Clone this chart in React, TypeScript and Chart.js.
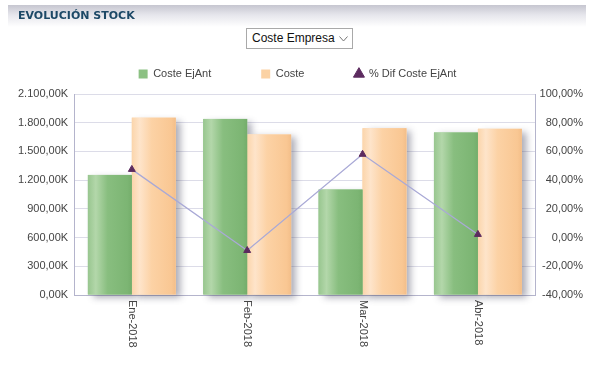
import React, { useEffect, useRef } from 'react';
import { Chart, registerables } from 'chart.js';

Chart.register(...registerables);

// ---- data ----
const categories = ['Ene-2018', 'Feb-2018', 'Mar-2018', 'Abr-2018'];
const costeEjAnt = [1255, 1840, 1102, 1698]; // K
const coste = [1853, 1677, 1743, 1736]; // K
const difPct = [47.5, -9, 58, 2.2]; // %
const seriesNames = ['Coste EjAnt', 'Coste', '% Dif Coste EjAnt'];
const leftMin = 0;
const leftMax = 2100;
const leftStep = 150;
const leftLabelStep = 300;
const rightMin = -40;
const rightMax = 100;
const rightStep = 20;

const FONT = '"Liberation Sans", Arial, Helvetica, sans-serif';

function fmtK(v: number) {
  const [i, d] = Math.abs(v).toFixed(2).split('.');
  const g = i.replace(/\B(?=(\d{3})+(?!\d))/g, '.');
  return (v < 0 ? '-' : '') + g + ',' + d + 'K';
}
function fmtPct(v: number) {
  return v.toFixed(2).replace('.', ',') + '%';
}

const gradStops: Record<string, Array<[number, string]>> = {
  [seriesNames[0]]: [
    [0, '#98c68f'],
    [0.18, '#b3d7aa'],
    [0.45, '#88be7f'],
    [0.9, '#7cb573'],
    [1, '#74ad6b'],
  ],
  [seriesNames[1]]: [
    [0, '#fbd5ab'],
    [0.18, '#fee4ca'],
    [0.45, '#fcd2a5'],
    [0.9, '#f9c793'],
    [1, '#f3be89'],
  ],
};

const barFx = {
  id: 'barFx',
  beforeDatasetsDraw(chart: any) {
    const ctx = chart.ctx;
    chart.data.datasets.forEach((_ds: any, di: number) => {
      const meta = chart.getDatasetMeta(di);
      if (meta.type !== 'bar') return;
      meta.data.forEach((el: any) => {
        const { x, y, base, width } = el.getProps(['x', 'y', 'base', 'width'], true);
        ctx.save();
        ctx.shadowColor = 'rgba(70,70,95,0.45)';
        ctx.shadowBlur = 7;
        ctx.shadowOffsetX = 5;
        ctx.shadowOffsetY = 3;
        ctx.fillStyle = '#ffffff';
        ctx.fillRect(x - width / 2, y, width, base - y);
        ctx.restore();
      });
    });
  },
  afterDatasetDraw(chart: any, args: any) {
    const meta = args.meta;
    if (meta.type !== 'bar') return;
    const label = chart.data.datasets[args.index].label;
    const stops = gradStops[label];
    if (!stops) return;
    const ctx = chart.ctx;
    meta.data.forEach((el: any) => {
      const { x, y, base, width } = el.getProps(['x', 'y', 'base', 'width'], true);
      const l = x - width / 2;
      const g = ctx.createLinearGradient(l, 0, l + width, 0);
      stops.forEach(([o, c]) => g.addColorStop(o, c));
      ctx.save();
      ctx.fillStyle = g;
      ctx.fillRect(l, y, width, base - y);
      ctx.restore();
    });
  },
};

const xLabels = {
  id: 'xLabels',
  afterDatasetsDraw(chart: any) {
    const sc = chart.scales.x;
    const ctx = chart.ctx;
    ctx.save();
    ctx.font = '11px ' + FONT;
    ctx.fillStyle = '#444';
    ctx.textAlign = 'left';
    ctx.textBaseline = 'middle';
    sc.ticks.forEach((t: any, i: number) => {
      const px = sc.getPixelForTick(i);
      ctx.save();
      ctx.translate(px, sc.top + 5);
      ctx.rotate(Math.PI / 2);
      ctx.fillText(String(sc.getLabelForValue(t.value)), 0, 0);
      ctx.restore();
    });
    ctx.restore();
  },
};

function ChartView() {
  const ref = useRef<HTMLCanvasElement | null>(null);
  useEffect(() => {
    if (!ref.current) return;
    Chart.defaults.font.family = FONT;
    Chart.defaults.font.size = 11;
    Chart.defaults.color = '#444';
    const chart = new Chart(ref.current, {
      type: 'bar',
      data: {
        labels: categories,
        datasets: [
          {
            type: 'line',
            label: seriesNames[2],
            data: difPct,
            yAxisID: 'y1',
            borderColor: '#a9a9d6',
            borderWidth: 1.3,
            pointStyle: 'triangle',
            pointRadius: 4,
            pointBackgroundColor: '#5c2b5f',
            pointBorderColor: '#5c2b5f',
            pointBorderWidth: 1,
            order: 0,
          } as any,
          {
            type: 'bar',
            label: seriesNames[0],
            data: costeEjAnt,
            yAxisID: 'y',
            backgroundColor: '#8cc183',
            borderWidth: 0,
            pointStyle: 'rect',
            order: 1,
          } as any,
          {
            type: 'bar',
            label: seriesNames[1],
            data: coste,
            yAxisID: 'y',
            backgroundColor: '#fbd2a4',
            borderWidth: 0,
            pointStyle: 'rect',
            order: 1,
          } as any,
        ],
      },
      options: {
        responsive: false,
        animation: false,
        devicePixelRatio: 1,
        layout: { padding: { left: 12, right: 12, top: 18.5, bottom: 70 } },
        datasets: { bar: { categoryPercentage: 0.762, barPercentage: 1 } } as any,
        plugins: {
          legend: {
            position: 'top',
            weight: 1000,
            labels: {
              usePointStyle: true,
              boxHeight: 9,
              boxWidth: 9,
              padding: 50,
              color: '#444',
              font: { size: 11, family: FONT },
              sort: (a: any, b: any) => {
                const order = [seriesNames[0], seriesNames[1], seriesNames[2]];
                return order.indexOf(a.text) - order.indexOf(b.text);
              },
            },
          } as any,
          title: {
            display: true,
            text: '',
            weight: 500,
            font: { size: 1, lineHeight: 1 },
            padding: { top: 0, bottom: 3.5 },
          } as any,
          tooltip: { enabled: false },
        },
        scales: {
          x: {
            grid: { display: false, drawTicks: false },
            border: { display: true, color: '#b4b4cc' },
            ticks: { display: false },
          },
          y: {
            position: 'left',
            min: leftMin,
            max: leftMax,
            grid: { color: '#dcdce8', drawTicks: false },
            border: { display: true, color: '#b4b4cc' },
            ticks: {
              stepSize: leftStep,
              padding: 6,
              color: '#444',
              autoSkip: false,
              callback: (v: any) => (Number(v) % leftLabelStep === 0 ? fmtK(Number(v)) : null),
            },
          },
          y1: {
            position: 'right',
            min: rightMin,
            max: rightMax,
            grid: { drawOnChartArea: false, drawTicks: false },
            border: { display: true, color: '#b4b4cc' },
            ticks: {
              stepSize: rightStep,
              padding: 2,
              crossAlign: 'far',
              color: '#444',
              callback: (v: any) => fmtPct(Number(v)),
            },
          } as any,
        },
      },
      plugins: [barFx, xLabels],
    });
    return () => chart.destroy();
  }, []);
  return (
    <canvas
      ref={ref}
      width={595}
      height={365}
      style={{ position: 'absolute', left: 0, top: 0, width: 595, height: 365 }}
    />
  );
}

export default function App() {
  return (
    <div
      style={{
        position: 'absolute',
        left: 0,
        top: 0,
        width: 595,
        height: 365,
        background: '#ffffff',
        overflow: 'hidden',
        fontFamily: FONT,
      }}
    >
      <div
        style={{
          position: 'absolute',
          left: 8,
          top: 5,
          width: 578,
          height: 22,
          background: 'linear-gradient(to bottom, #c6c6d0 0%, #e6e6ec 45%, #ffffff 100%)',
        }}
      />
      <div
        style={{
          position: 'absolute',
          left: 18,
          top: 9,
          fontFamily: '"DejaVu Sans", Verdana, sans-serif',
          fontWeight: 'bold',
          fontSize: 11,
          color: '#1c4866',
          zIndex: 2,
        }}
      >
        EVOLUCIÓN STOCK
      </div>
      <ChartView />
      <div
        style={{
          position: 'absolute',
          left: 246,
          top: 28,
          width: 105,
          height: 19,
          border: '1px solid #a9a9a9',
          background: '#fff',
          zIndex: 2,
          boxSizing: 'content-box',
        }}
      >
        <span
          style={{
            position: 'absolute',
            left: 5,
            top: 2,
            fontSize: 12,
            color: '#111',
            fontFamily: FONT,
          }}
        >
          Coste Empresa
        </span>
        <svg
          width={9}
          height={6}
          style={{ position: 'absolute', left: 92, top: 7 }}
          viewBox="0 0 9 6"
        >
          <polyline points="0.5,0.5 4.5,5 8.5,0.5" fill="none" stroke="#777" strokeWidth={1} />
        </svg>
      </div>
    </div>
  );
}
